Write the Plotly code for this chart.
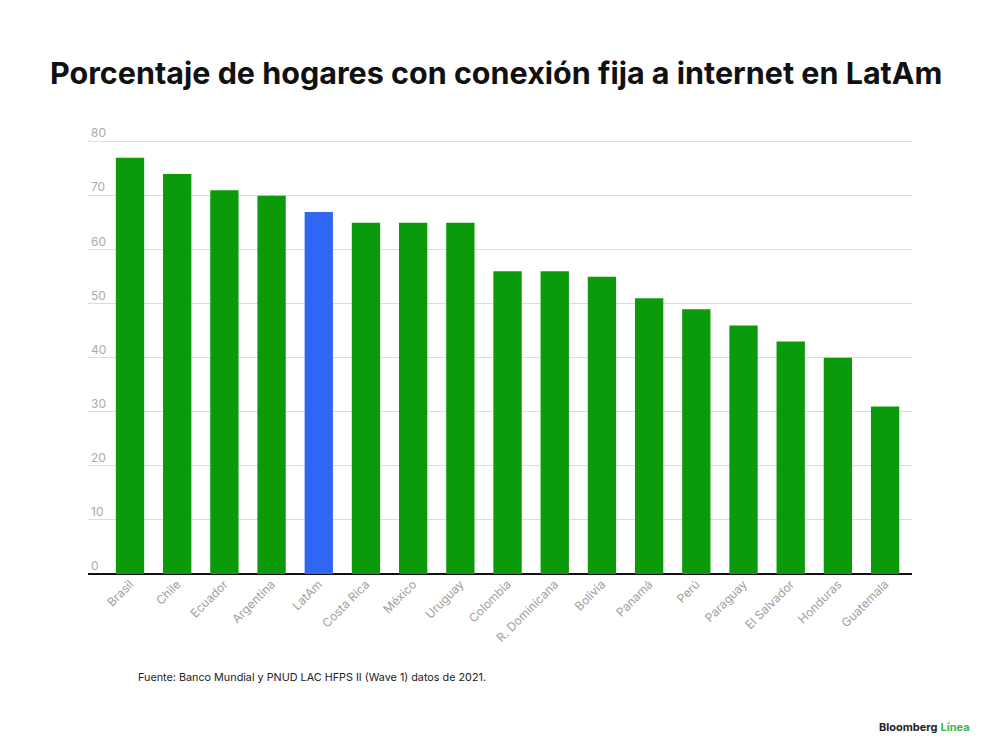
import plotly.graph_objects as go

# Datos
paises = ["Brasil", "Chile", "Ecuador", "Argentina", "LatAm", "Costa Rica", "México",
          "Uruguay", "Colombia", "R. Dominicana", "Bolivia", "Panamá", "Perú",
          "Paraguay", "El Salvador", "Honduras", "Guatemala"]
porcentaje = [77, 74, 71, 70, 67, 65, 65, 65, 56, 56, 55, 51, 49, 46, 43, 40, 31]
tick_vals = [0, 10, 20, 30, 40, 50, 60, 70, 80]

VERDE = "#0a9a0a"
AZUL = "#2f66f2"
colores = [AZUL if p == "LatAm" else VERDE for p in paises]

fig = go.Figure()
fig.add_trace(go.Bar(
    x=paises, y=porcentaje,
    marker=dict(color=colores, line=dict(width=0)),
    width=0.6,
))

# la página tiene 8px de margen en el body, por eso 992x747
fig.update_layout(
    width=992, height=747,
    margin=dict(l=80, r=88, t=112, b=181),
    plot_bgcolor="white", paper_bgcolor="white",
    showlegend=False,
    font=dict(family="Inter, Roboto, sans-serif"),
    title=dict(
        text="<b>Porcentaje de hogares con conexión fija a internet en LatAm</b>",
        x=0.0423, xanchor="left", y=0.912, yanchor="middle",
        font=dict(size=30.5, color="#111111", family="Inter, Roboto, sans-serif"),
    ),
    xaxis=dict(
        range=[-0.89, 16.57],
        tickangle=-45,
        tickfont=dict(size=12, color="#a0a0a0"),
        showgrid=False,
        showline=False,
        ticks="",
    ),
    yaxis=dict(
        range=[0, 84],
        tickvals=tick_vals,
        ticklabelposition="inside top",
        tickfont=dict(size=12, color="#ababab"),
        showgrid=True, gridcolor="#dddddd", gridwidth=1,
        zeroline=True, zerolinecolor="#111111", zerolinewidth=2,
        showline=False,
        ticks="",
    ),
)

fig.add_annotation(
    text="Fuente: Banco Mundial y PNUD LAC HFPS II (Wave 1) datos de 2021.",
    xref="paper", yref="paper", x=0.058, y=-0.229,
    xanchor="left", yanchor="middle", showarrow=False,
    font=dict(size=10.8, color="#222222"),
)
fig.add_annotation(
    text="<b>Bloomberg</b> <b><span style='color:#3cb54a'>Línea</span></b>",
    xref="paper", yref="paper", x=1.0728, y=-0.337,
    xanchor="right", yanchor="middle", showarrow=False,
    font=dict(size=11, color="#222222"),
)

fig.write_html("out.html")
